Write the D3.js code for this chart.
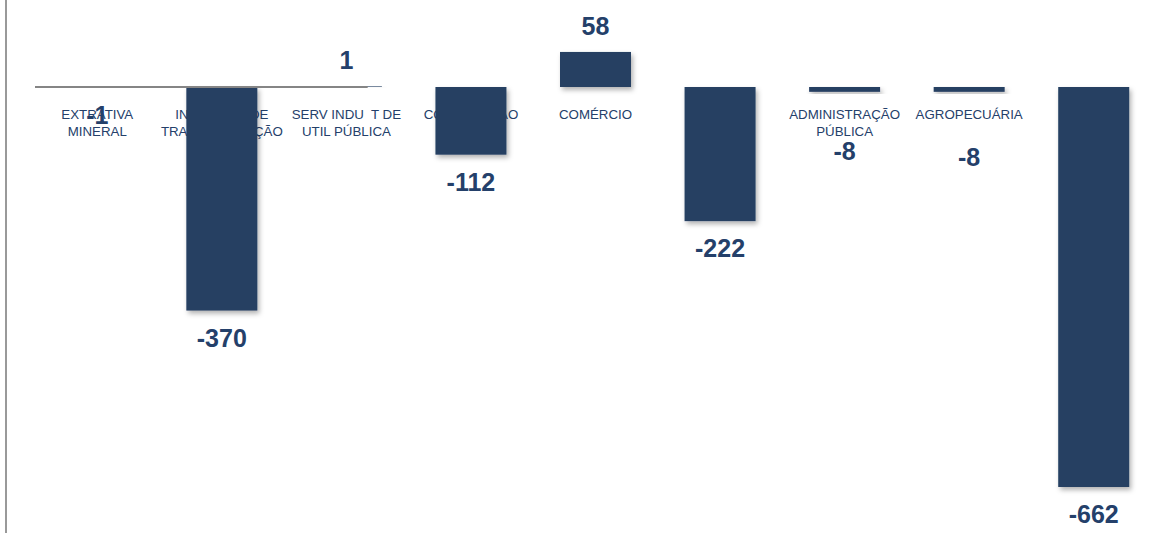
<!DOCTYPE html>
<html>
<head>
<meta charset="utf-8">
<script src="https://cdn.jsdelivr.net/npm/d3@7"></script>
<style>
  body { margin: 0; background: #fff; }
  svg { display: block; font-family: Arial, "Liberation Sans", sans-serif; }
</style>
</head>
<body>
<svg id="chart" width="1175" height="533"></svg>
<script>
var categories = ["EXTRATIVA MINERAL", "INDÚSTRIA DE TRANSFORMAÇÃO", "SERV INDU T DE UTIL PÚBLICA",
  "CONSTRUÇÃO", "COMÉRCIO", "SERVIÇOS", "ADMINISTRAÇÃO PÚBLICA", "AGROPECUÁRIA", "TOTAL"];
var labelLines = [["EXTRATIVA", "MINERAL"], ["INDÚSTRIA DE", "TRANSFORMAÇÃO"], ["SERV INDU  T DE", "UTIL PÚBLICA"],
  ["CONSTRUÇÃO"], ["COMÉRCIO"], ["SERVIÇOS"], ["ADMINISTRAÇÃO", "PÚBLICA"], ["AGROPECUÁRIA"], ["TOTAL"]];
var values = [-1, -370, 1, -112, 58, -222, -8, -8, -662];

var svg = d3.select("#chart");
var barColor = "#253f62",
  textColor = "#24406a";

// value labels of the two small bars sit under the category text
var labelDrop = { "ADMINISTRAÇÃO PÚBLICA": 32, "AGROPECUÁRIA": 38 };

var x = d3.scaleBand()
  .domain(categories)
  .range([35, 1156])
  .paddingInner(0.43)
  .paddingOuter(0.215);

var y = d3.scaleLinear()
  .domain([0, -662])
  .range([87, 487]);

var defs = svg.append("defs");
var shadow = defs.append("filter").attr("id", "shadow")
  .attr("x", "-20%").attr("y", "-20%").attr("width", "150%").attr("height", "150%");
shadow.append("feDropShadow")
  .attr("dx", 2).attr("dy", 3).attr("stdDeviation", 2.5)
  .attr("flood-color", "#000").attr("flood-opacity", 0.3);

// left frame
svg.append("line")
  .attr("x1", 6).attr("x2", 6).attr("y1", 0).attr("y2", 533)
  .attr("stroke", "#999").attr("stroke-width", 2);

// category labels (behind the bars)
var cat = svg.append("g").selectAll("text")
  .data(categories)
  .enter().append("text")
  .attr("text-anchor", "middle")
  .attr("font-size", 13.3)
  .attr("fill", textColor)
  .attr("transform", function(d) {
    return "translate(" + (x(d) + x.bandwidth() / 2) + ",119)";
  });
cat.selectAll("tspan")
  .data(function(d, i) { return labelLines[i]; })
  .enter().append("tspan")
  .attr("x", 0)
  .attr("y", function(d, i) { return i * 17; })
  .style("white-space", "pre")
  .text(function(d) { return d; });

// bars
svg.append("g").selectAll("rect")
  .data(values)
  .enter().append("rect")
  .attr("x", function(d, i) { return x(categories[i]); })
  .attr("width", x.bandwidth())
  .attr("y", function(d) { return Math.min(y(d), y(0)); })
  .attr("height", function(d) { return Math.abs(y(d) - y(0)); })
  .attr("fill", barColor)
  .attr("filter", "url(#shadow)");

// baseline (only drawn across the first categories)
svg.append("line")
  .attr("x1", 35).attr("x2", x("SERV INDU T DE UTIL PÚBLICA") + x.bandwidth() * 0.8)
  .attr("y1", y(0)).attr("y2", y(0))
  .attr("stroke", "#858585").attr("stroke-width", 2);

// value labels
svg.append("g").selectAll("text")
  .data(values)
  .enter().append("text")
  .attr("text-anchor", "middle")
  .attr("font-size", 25)
  .attr("font-weight", "bold")
  .attr("fill", textColor)
  .attr("x", function(d, i) { return x(categories[i]) + x.bandwidth() / 2; })
  .attr("y", function(d, i) {
    if (d >= 0) return y(d) - 17;
    return y(d) + 36 + (labelDrop[categories[i]] || 0);
  })
  .text(function(d) { return d; });
</script>
</body>
</html>
